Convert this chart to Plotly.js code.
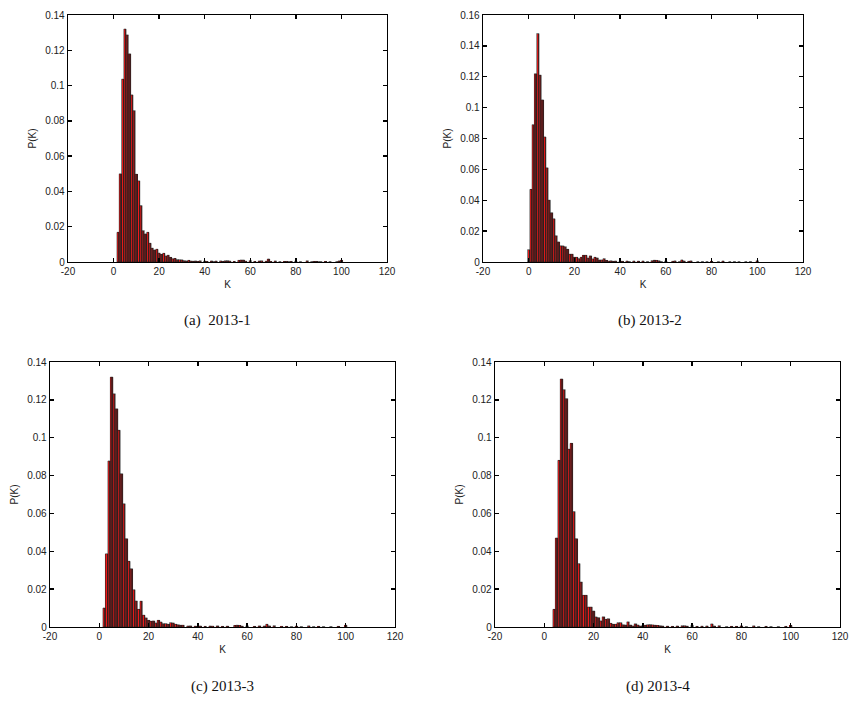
<!DOCTYPE html>
<html>
<head>
<meta charset="utf-8">
<script src="https://cdn.plot.ly/plotly-3.0.1.min.js"></script>
<style>html,body{margin:0;padding:0;background:#fff;}#chart{width:849px;height:706px;}</style>
</head>
<body>
<div id="chart"></div>
<script>
// ---- data ----
const xTickVals = [-20, 0, 20, 40, 60, 80, 100, 120];
const xTickText = ["-20", "0", "20", "40", "60", "80", "100", "120"];
const captions = ["(a)  2013-1", "(b) 2013-2", "(c) 2013-3", "(d) 2013-4"];

// (a) 2013-1
const k1 = [2,3,4,5,6,7,8,9,10,11,12,13,14,15,16,17,18,19,20,21,22,23,24,25,26,27,28,29,30,31,32,33,34,35,36,37,38,40,41,43,44,45,47,48,49,50,51,53,55,56,57,58,60,62,64,65,67,68,69,71,73,75,76,77,78,80,82,85,87,88,89,90,91,93,95,98,99,100];
const p1 = [0.0168,0.050,0.1036,0.132,0.1287,0.118,0.0947,0.0858,0.0497,0.046,0.032,0.0178,0.0159,0.0168,0.0106,0.0078,0.0068,0.0072,0.005,0.0043,0.0049,0.0034,0.0038,0.0026,0.0019,0.002,0.0014,0.0013,0.0012,0.0008,0.0006,0.0009,0.0005,0.0004,0.0006,0.0003,0.0007,0.0005,0.0003,0.0006,0.0002,0.0005,0.0006,0.0003,0.0007,0.0008,0.0005,0.0003,0.0009,0.0011,0.0011,0.0004,0.0008,0.0003,0.0006,0.0007,0.0004,0.0017,0.0003,0.0006,0.0002,0.0003,0.0003,0.0002,0.0003,0.0005,0.0002,0.0007,0.0002,0.0003,0.0003,0.0002,0.0002,0.0003,0.0002,0.0002,0.0006,0.0009];

// (b) 2013-2
const k2 = [0,1,2,3,4,5,6,7,8,9,10,11,12,13,14,15,16,17,18,19,20,21,22,23,24,25,26,27,28,29,30,31,32,33,34,35,36,37,38,40,41,43,44,46,48,50,52,54,55,56,57,58,60,63,64,66,67,68,70,71,74,76,78,80,83,85,88,90,92,95,97,100];
const p2 = [0.008,0.047,0.089,0.122,0.148,0.121,0.105,0.081,0.061,0.040,0.032,0.028,0.017,0.013,0.0105,0.0104,0.0099,0.0082,0.005,0.005,0.003,0.003,0.0022,0.003,0.0043,0.0043,0.0025,0.004,0.002,0.003,0.0026,0.0013,0.0013,0.0022,0.001,0.0005,0.0008,0.0004,0.0006,0.0005,0.0004,0.0006,0.0003,0.0006,0.0005,0.0006,0.0003,0.0009,0.0011,0.001,0.0008,0.0003,0.0006,0.0004,0.0007,0.0003,0.0013,0.0006,0.0004,0.0007,0.0002,0.0003,0.0002,0.0004,0.0002,0.0006,0.0002,0.0003,0.0002,0.0002,0.0003,0.0008];

// (c) 2013-3
const k3 = [2,3,4,5,6,7,8,9,10,11,12,13,14,15,16,17,18,19,20,21,22,23,24,25,26,27,28,29,30,31,32,33,34,36,37,39,41,43,45,46,48,50,52,55,56,57,58,60,63,65,67,68,69,71,74,76,78,80,82,85,87,89,91,94,97,100];
const p3 = [0.010,0.0387,0.0877,0.132,0.1232,0.1153,0.1039,0.081,0.0651,0.0467,0.0347,0.0308,0.0197,0.0137,0.0093,0.0136,0.0062,0.0048,0.0035,0.003,0.0032,0.0021,0.0035,0.0026,0.0018,0.0018,0.0014,0.0023,0.0021,0.0014,0.0012,0.0009,0.0009,0.0005,0.0006,0.0004,0.0005,0.0003,0.0005,0.0004,0.0006,0.0003,0.0004,0.0008,0.0009,0.0008,0.0004,0.0006,0.0003,0.0006,0.0005,0.0014,0.0006,0.0007,0.0003,0.0003,0.0002,0.0004,0.0002,0.0006,0.0002,0.0003,0.0002,0.0002,0.0003,0.0009];

// (d) 2013-4
const k4 = [4,5,6,7,8,9,10,11,12,13,14,15,16,17,18,19,20,21,22,23,24,25,26,27,28,29,30,31,32,33,34,35,36,37,38,39,40,41,42,43,44,45,46,47,48,50,52,54,56,57,58,60,62,64,66,68,69,71,74,76,78,80,82,85,87,90,92,95,98,100];
const p4 = [0.0093,0.047,0.088,0.131,0.1254,0.1207,0.0939,0.097,0.061,0.0467,0.0335,0.0237,0.0167,0.0167,0.0105,0.0105,0.0084,0.0053,0.005,0.0032,0.0054,0.004,0.0044,0.0019,0.0014,0.0014,0.0023,0.0023,0.0012,0.001,0.0027,0.001,0.0005,0.0017,0.001,0.0005,0.0007,0.0009,0.0012,0.0013,0.0011,0.0009,0.0008,0.0007,0.0005,0.0004,0.0003,0.0005,0.0007,0.0007,0.0004,0.0009,0.0003,0.0004,0.0005,0.0016,0.0005,0.0007,0.0002,0.0003,0.0003,0.0006,0.0002,0.0006,0.0002,0.0003,0.0002,0.0002,0.0003,0.0008];

const panels = [
  {k: k1, p: p1, ymax: 0.14},
  {k: k2, p: p2, ymax: 0.16},
  {k: k3, p: p3, ymax: 0.14},
  {k: k4, p: p4, ymax: 0.14}
];

// ---- layout geometry (pixels) ----
const W = 849, H = 706;
const boxes = [
  {l: 68, r: 387, t: 15, b: 262},
  {l: 483, r: 803, t: 15, b: 262},
  {l: 50, r: 395, t: 362, b: 627},
  {l: 495, r: 840, t: 362, b: 627}
];
const capPos = [
  {x: 217, y: 320}, {x: 650, y: 320}, {x: 222, y: 686}, {x: 658, y: 686}
];

const RED = '#f01a1a', DARK = '#5a1c1c';
const traces = [];
const layout = {
  width: W, height: H,
  margin: {l: 0, r: 0, t: 0, b: 0},
  paper_bgcolor: '#fff', plot_bgcolor: '#fff',
  showlegend: false, barmode: 'overlay', bargap: 0,
  font: {family: 'Liberation Sans, Arial, sans-serif', size: 10, color: '#222'},
  annotations: []
};

panels.forEach((pn, i) => {
  const n = i + 1;
  const sfx = (n === 1 ? '' : String(n));
  const xa = 'x' + sfx, ya = 'y' + sfx;
  traces.push({type: 'bar', x: pn.k, y: pn.p, xaxis: xa, yaxis: ya,
    width: 1, offset: -0.5, marker: {color: RED, line: {width: 0}}, hoverinfo: 'skip'});
  traces.push({type: 'bar', x: pn.k, y: pn.p, xaxis: xa, yaxis: ya,
    width: 0.55, offset: -0.05, marker: {color: DARK, line: {width: 0}}, hoverinfo: 'skip'});
  traces.push({type: 'bar', x: pn.k, y: pn.p, xaxis: xa, yaxis: ya,
    width: 1, offset: -0.5, marker: {color: 'rgba(0,0,0,0)', line: {width: 0.6, color: '#222'}}, hoverinfo: 'skip'});

  const b = boxes[i];
  const axCommon = {
    showline: true, linecolor: '#000', linewidth: 1.3, mirror: 'ticks',
    ticks: 'inside', ticklen: 4, tickwidth: 1.3, tickcolor: '#000',
    showgrid: false, zeroline: false, fixedrange: true,
    tickfont: {family: 'Liberation Sans, Arial, sans-serif', size: 10, color: '#222'}
  };
  layout['xaxis' + sfx] = Object.assign({}, axCommon, {
    domain: [b.l / W, b.r / W], anchor: ya,
    range: [-20, 120], tickmode: 'array', tickvals: xTickVals, ticktext: xTickText,
    title: {text: 'K', font: {size: 10, color: '#222'}, standoff: 4}
  });
  layout['yaxis' + sfx] = Object.assign({}, axCommon, {
    domain: [1 - b.b / H, 1 - b.t / H], anchor: xa,
    range: [0, pn.ymax], dtick: 0.02, tick0: 0,
    title: {text: 'P(K)', font: {size: 10, color: '#222'}, standoff: 6}
  });
  layout.annotations.push({
    text: captions[i], xref: 'paper', yref: 'paper',
    x: capPos[i].x / W, y: 1 - capPos[i].y / H, xanchor: 'center', yanchor: 'middle',
    showarrow: false, font: {family: 'Liberation Serif, Times New Roman, serif', size: 15, color: '#111'}
  });
});

Plotly.newPlot('chart', traces, layout, {displayModeBar: false, staticPlot: true});
</script>
</body>
</html>
